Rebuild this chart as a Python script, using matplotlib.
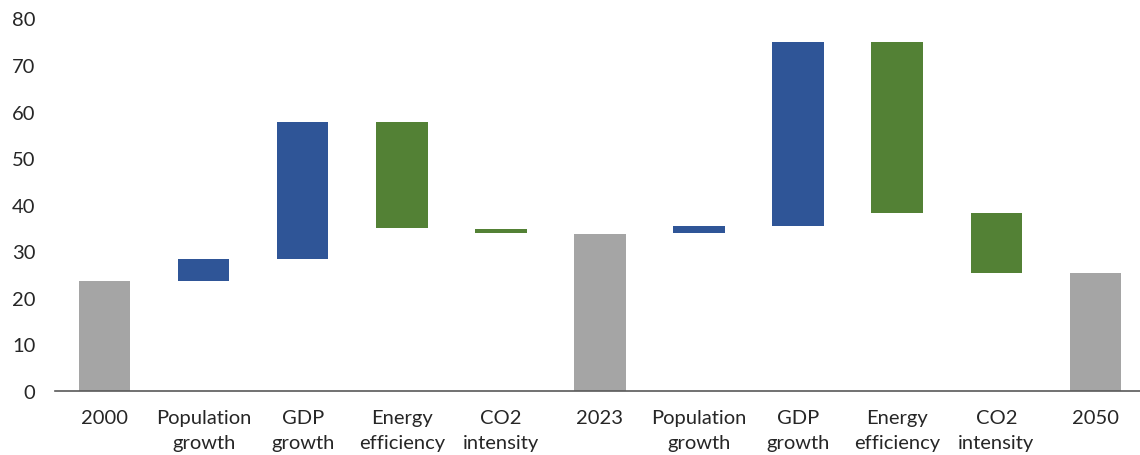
import matplotlib
matplotlib.use("Agg")
import matplotlib.pyplot as plt

categories = ["2000", "Population\ngrowth", "GDP\ngrowth", "Energy\nefficiency", "CO2\nintensity",
              "2023", "Population\ngrowth", "GDP\ngrowth", "Energy\nefficiency", "CO2\nintensity", "2050"]
bar_low = [0, 23.7, 28.3, 34.9, 33.9, 0, 33.9, 35.4, 38.3, 25.4, 0]
bar_high = [23.7, 28.3, 57.8, 57.8, 34.8, 33.8, 35.4, 75.0, 75.0, 38.3, 25.4]
bar_kind = ["total", "driver", "driver", "offset", "offset",
            "total", "driver", "driver", "offset", "offset", "total"]
colors_map = {"total": "#A5A5A5", "driver": "#2F5597", "offset": "#538135"}
yticks = [0, 10, 20, 30, 40, 50, 60, 70, 80]

plt.rcParams['font.family'] = ['Lato', 'DejaVu Sans']

fig = plt.figure(figsize=(11.4, 4.56), dpi=100)
ax = fig.add_axes([55/1140, 64/456, 1 - 55/1140, (392 - 19.5)/456])

x = list(range(len(categories)))
heights = [h - l for l, h in zip(bar_low, bar_high)]
ax.bar(x, heights, bottom=bar_low, width=0.52,
       color=[colors_map[k] for k in bar_kind], edgecolor='none')

ax.set_xlim(-0.5, 10.45)
ax.set_ylim(0, 80)
ax.set_yticks(yticks)
ax.set_yticklabels([str(v) for v in yticks], fontsize=14.5, color='#262626')
ax.set_xticks(x)
ax.set_xticklabels(categories, fontsize=14.5, color='#262626', linespacing=1.55)
ax.tick_params(axis='both', length=0)
ax.tick_params(axis='y', pad=14)
ax.tick_params(axis='x', pad=13)
for s in ['top', 'right', 'left']:
    ax.spines[s].set_visible(False)
ax.spines['bottom'].set_color('#595959')
ax.spines['bottom'].set_linewidth(1.2)

fig.savefig("out.png", dpi=100)
